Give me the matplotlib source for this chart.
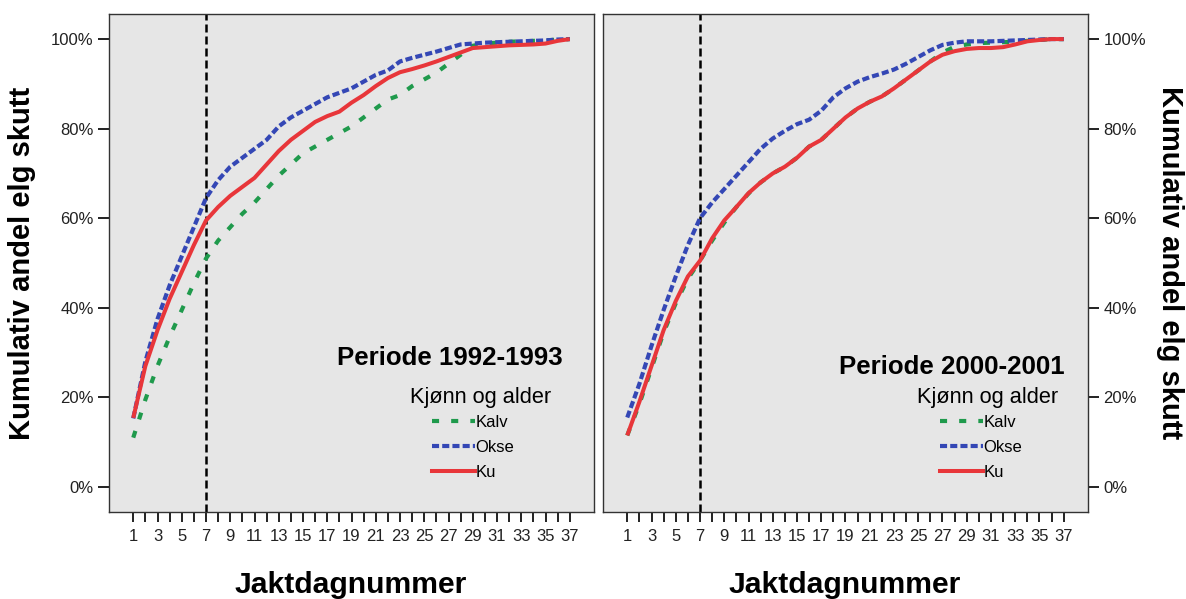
import matplotlib
matplotlib.use("Agg")
import matplotlib.pyplot as plt
from matplotlib.lines import Line2D

plt.rcParams['font.family'] = ['Liberation Sans', 'DejaVu Sans']

# jaktdag 1..37
days = list(range(1, 38))

# Periode 1992-1993 (kumulativ andel, %)
left_kalv = [11, 19.5, 27, 33.5, 39.5, 45.5, 51, 55, 58, 61, 63.5, 66.5, 69.5, 72, 74.5, 76, 77.5,
             79, 80.5, 82.5, 84.5, 86.5, 87.5, 89.5, 91, 92.5, 94.5, 96.5, 98.5, 99, 99.2, 99.4,
             99.5, 99.6, 99.7, 99.9, 100]
left_okse = [15.3, 28, 37.5, 45, 51.5, 58, 64.5, 68.5, 71.5, 73.5, 75.5, 77.5, 80.5, 82.5, 84, 85.5,
             87, 88, 89, 90.5, 92, 93, 95, 95.8, 96.5, 97.2, 98, 98.8, 99, 99.2, 99.3, 99.4, 99.5,
             99.6, 99.7, 99.9, 100]
left_ku = [15.4, 27, 35, 42, 48, 54, 59.5, 62.5, 65, 67, 69, 72, 75, 77.5, 79.5, 81.5, 82.8, 83.8,
           85.8, 87.5, 89.5, 91.3, 92.6, 93.3, 94.1, 95, 96, 97, 98, 98.2, 98.4, 98.6, 98.7, 98.8,
           99, 99.6, 100]

# Periode 2000-2001
right_kalv = [11.5, 18.5, 26.5, 34.5, 41, 46.5, 50.5, 55, 59, 62.5, 65.5, 68, 70, 71.5, 73.5, 76,
              77.5, 80, 82.5, 84.5, 86, 87.2, 89, 91, 93, 95, 97, 98.3, 98.8, 99.1, 99.2, 99.3,
              99.4, 99.6, 99.8, 100, 100]
right_okse = [15.5, 23, 31.5, 39.5, 47, 54, 60, 63.5, 66.5, 69.5, 72.5, 75.5, 77.8, 79.5, 81, 82,
              84, 87, 89, 90.5, 91.5, 92.3, 93.2, 94.5, 96, 97.5, 98.7, 99.2, 99.5, 99.5, 99.5,
              99.6, 99.7, 99.8, 99.9, 100, 100]
right_ku = [11.5, 19, 27, 35, 41.5, 47, 50.5, 55.5, 59.5, 62.5, 65.6, 68, 70, 71.5, 73.5, 76, 77.5,
            80, 82.5, 84.5, 86, 87.2, 89, 91, 93, 95, 96.5, 97.3, 97.8, 98, 98, 98.2, 98.8, 99.5,
            99.8, 100, 100]

periods = ['Periode 1992-1993', 'Periode 2000-2001']
series_names = ['Kalv', 'Okse', 'Ku']
y_ticks = [0, 20, 40, 60, 80, 100]
marker_day = 7

colors = {'Kalv': '#1f9a4c', 'Okse': '#3447b5', 'Ku': '#e8363a'}
styles = {'Kalv': (0, (1.7, 2.9)), 'Okse': (0, (1.7, 0.75)), 'Ku': '-'}
widths = {'Kalv': 3.0, 'Okse': 3.0, 'Ku': 2.9}

W, H = 1186, 599
fig = plt.figure(figsize=(W / 100, H / 100), dpi=100)

def fx(px):
    return px / W

def fy(py):
    return 1 - py / H

ax_l = fig.add_axes([fx(109), fy(512), fx(485), 498 / H])
ax_r = fig.add_axes([fx(603), fy(512), fx(485), 498 / H])

panels = [
    (ax_l, [left_kalv, left_okse, left_ku], 'left'),
    (ax_r, [right_kalv, right_okse, right_ku], 'right'),
]

for ax, data, side in panels:
    ax.set_facecolor('#e6e6e6')
    for name, vals in zip(series_names, data):
        ax.plot(days, vals, color=colors[name], linestyle=styles[name],
                linewidth=widths[name], solid_capstyle='butt', label=name)
    ax.axvline(marker_day, color='black', linestyle=(0, (3.2, 1.6)), linewidth=1.8, zorder=1)

    ax.set_xlim(-1, 39)
    ax.set_ylim(-5.6, 105.6)
    ax.set_xticks(days)
    ax.set_xticklabels([str(d) if d % 2 == 1 else '' for d in days])
    ax.set_yticks(y_ticks)
    ax.set_yticklabels([f"{v}%" for v in y_ticks])
    ax.tick_params(axis='x', direction='out', length=7, width=1.4, pad=5,
                   labelsize=12, colors='#222222')
    ax.tick_params(axis='y', direction='out', length=8, width=1.4, pad=3,
                   labelsize=12, colors='#222222')
    if side == 'right':
        ax.yaxis.tick_right()
    for sp in ax.spines.values():
        sp.set_color('#333333')
        sp.set_linewidth(1.0)

# periode-tekster
fig.text(fx(563), fy(358), periods[0], ha='right', va='center', fontsize=18.6, fontweight='bold')
fig.text(fx(1065), fy(367), periods[1], ha='right', va='center', fontsize=18.6, fontweight='bold')

# legender
for ax, tx, hx in [(ax_l, 481, 432), (ax_r, 988, 940)]:
    fig.text(fx(tx), fy(398), 'Kjønn og alder', ha='center', va='center', fontsize=15.7)
    handles = [Line2D([0], [0], color=colors[n], linestyle=styles[n], linewidth=widths[n])
               for n in series_names]
    ax.legend(handles, series_names, loc='upper left', bbox_to_anchor=(fx(hx), fy(415)),
              bbox_transform=fig.transFigure, frameon=False, fontsize=12,
              handlelength=2.6, handletextpad=0.0, labelspacing=0.6, borderpad=0,
              borderaxespad=0)

# aksetitler
fig.text(fx(351), fy(593), 'Jaktdagnummer', ha='center', va='baseline', fontsize=21.7, fontweight='bold')
fig.text(fx(845), fy(593), 'Jaktdagnummer', ha='center', va='baseline', fontsize=21.7, fontweight='bold')
fig.text(fx(22), fy(263), 'Kumulativ andel elg skutt', ha='center', va='center', rotation=90,
         fontsize=21, fontweight='bold')
fig.text(fx(1170), fy(263), 'Kumulativ andel elg skutt', ha='center', va='center', rotation=270,
         fontsize=21, fontweight='bold')

fig.savefig('out.png', dpi=100, facecolor='white')
